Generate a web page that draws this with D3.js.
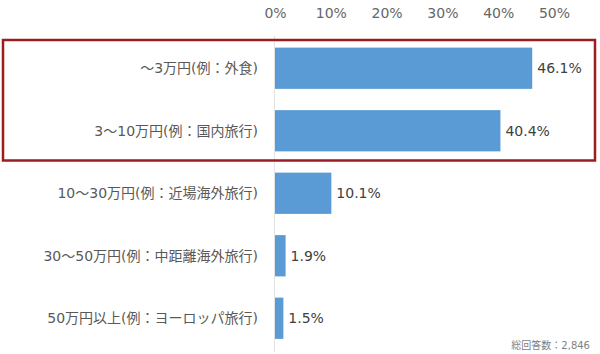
<!DOCTYPE html>
<meta charset="utf-8">
<body>
<script src="https://cdn.jsdelivr.net/npm/d3@7"></script>
<style>
    html, body {
        margin: 0;
        background: #fff;
    }
    text {
        font-family: "DejaVu Sans", "Noto Sans CJK JP", sans-serif;
    }
</style>
<script>
var categories = [
    "～3万円(例：外食)",
    "3～10万円(例：国内旅行)",
    "10～30万円(例：近場海外旅行)",
    "30～50万円(例：中距離海外旅行)",
    "50万円以上(例：ヨーロッパ旅行)"
];
var values = [46.1, 40.4, 10.1, 1.9, 1.5];
var tickValues = [0, 10, 20, 30, 40, 50];
var note = "総回答数：2,846";

var width = 600,
    height = 354;

var svg = d3.select("body").append("svg")
    .attr("width", width)
    .attr("height", height);

var x = d3.scaleLinear()
    .domain([0, 50])
    .range([275, 554]);

var y = d3.scaleBand()
    .domain(categories)
    .range([37, 349.5])
    .paddingInner(0.34)
    .paddingOuter(0.17);

// top axis labels only
var axis = d3.axisTop(x)
    .tickValues(tickValues)
    .tickSize(0)
    .tickFormat(function(d) { return d + "%"; });

svg.append("g")
    .attr("transform", "translate(0,13)")
    .call(axis)
    .call(function(g) {
        g.select(".domain").remove();
        g.selectAll("text")
            .attr("dy", "0.35em")
            .attr("y", 0)
            .attr("fill", "#666")
            .style("font-family", null)
            .style("font-size", "14px");
    });

// zero line
svg.append("line")
    .attr("x1", x(0) - 0.5).attr("x2", x(0) - 0.5)
    .attr("y1", 36).attr("y2", 352)
    .attr("stroke", "#e3e3e3")
    .attr("stroke-width", 1);

svg.selectAll("rect.bar")
    .data(values)
    .enter().append("rect")
    .attr("class", "bar")
    .attr("x", x(0))
    .attr("y", function(d, i) { return y(categories[i]); })
    .attr("width", function(d) { return x(d) - x(0); })
    .attr("height", y.bandwidth())
    .attr("fill", "#5b9bd5");

svg.selectAll("text.val")
    .data(values)
    .enter().append("text")
    .attr("class", "val")
    .attr("x", function(d) { return x(d) + 5; })
    .attr("y", function(d, i) { return y(categories[i]) + y.bandwidth() / 2; })
    .attr("dy", "0.35em")
    .attr("fill", "#404040")
    .style("font-size", "14px")
    .text(function(d) { return d.toFixed(1) + "%"; });

svg.selectAll("text.cat")
    .data(categories)
    .enter().append("text")
    .attr("class", "cat")
    .attr("x", 258)
    .attr("y", function(d) { return y(d) + y.bandwidth() / 2; })
    .attr("dy", "0.35em")
    .attr("text-anchor", "end")
    .attr("fill", "#595959")
    .style("font-size", "14px")
    .text(function(d) { return d; });

// highlight box around first two rows
svg.append("rect")
    .attr("x", 3)
    .attr("y", 40)
    .attr("width", 592)
    .attr("height", 120.5)
    .attr("fill", "none")
    .attr("stroke", "#9a1d22")
    .attr("stroke-width", 2.5);

svg.append("text")
    .attr("x", 590)
    .attr("y", 345)
    .attr("dy", "0.35em")
    .attr("text-anchor", "end")
    .attr("fill", "#7f7f7f")
    .style("font-size", "10px")
    .text(note);
</script>
